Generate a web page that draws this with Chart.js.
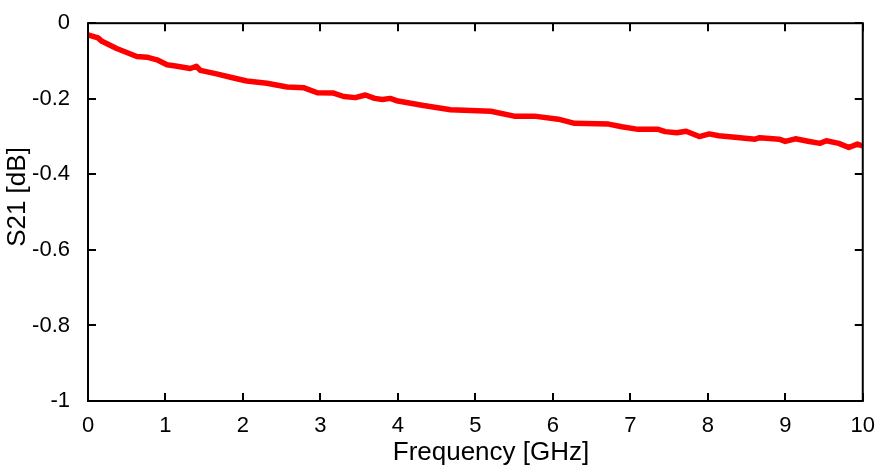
<!DOCTYPE html>
<html>
<head>
<meta charset="utf-8">
<script src="https://cdn.jsdelivr.net/npm/chart.js@4.4.1/dist/chart.umd.min.js"></script>
<style>
  html, body { margin: 0; padding: 0; background: #fff; }
  #wrap { width: 879px; height: 469px; }
</style>
</head>
<body>
<div id="wrap"><canvas id="chart"></canvas></div>
<script>
const freqGHz = [0, 0.13, 0.18, 0.37, 0.63, 0.76, 0.89, 1.02, 1.15, 1.32, 1.4, 1.45, 1.66, 1.88,
  2.05, 2.31, 2.57, 2.79, 2.96, 3.17, 3.3, 3.45, 3.58, 3.7, 3.8, 3.9, 4.0, 4.33, 4.68, 5.2,
  5.5, 5.76, 6.07, 6.28, 6.72, 6.89, 7.1, 7.36, 7.45, 7.6, 7.72, 7.89, 8.02, 8.14, 8.35,
  8.61, 8.67, 8.92, 9.0, 9.13, 9.31, 9.45, 9.53, 9.69, 9.82, 9.93, 10];
const s21dB = [-0.031, -0.039, -0.048, -0.067, -0.088, -0.09, -0.097, -0.11, -0.114, -0.12, -0.114, -0.125, -0.134, -0.145,
  -0.153, -0.159, -0.169, -0.171, -0.184, -0.185, -0.194, -0.197, -0.19, -0.199, -0.202, -0.199, -0.206, -0.218, -0.229, -0.233,
  -0.246, -0.246, -0.254, -0.265, -0.267, -0.274, -0.281, -0.281, -0.287, -0.29, -0.286, -0.3, -0.293, -0.298, -0.302,
  -0.307, -0.303, -0.307, -0.313, -0.306, -0.313, -0.318, -0.311, -0.318, -0.329, -0.32, -0.325];
const xTitle = "Frequency [GHz]";
const yTitle = "S21 [dB]";

const points = freqGHz.map((f, i) => ({ x: f, y: s21dB[i] }));
const fontFamily = "'Liberation Sans', Arial, sans-serif";

// gnuplot style frame: box + inward ticks on all four sides, axis titles
const framePlugin = {
  id: "frame",
  afterDraw(chart) {
    const ctx = chart.ctx;
    const a = chart.chartArea;
    const xs = chart.scales.x, ys = chart.scales.y;
    const len = 8;
    ctx.save();
    ctx.strokeStyle = "#000";
    ctx.lineWidth = 2;
    ctx.strokeRect(a.left, a.top, a.right - a.left, a.bottom - a.top);
    ctx.beginPath();
    xs.ticks.forEach((t) => {
      const px = Math.round(xs.getPixelForValue(t.value));
      ctx.moveTo(px, a.bottom); ctx.lineTo(px, a.bottom - len);
      ctx.moveTo(px, a.top); ctx.lineTo(px, a.top + len);
    });
    ys.ticks.forEach((t) => {
      const py = Math.round(ys.getPixelForValue(t.value));
      ctx.moveTo(a.left, py); ctx.lineTo(a.left + len, py);
      ctx.moveTo(a.right, py); ctx.lineTo(a.right - len, py);
    });
    ctx.stroke();

    ctx.fillStyle = "#000";
    ctx.font = "26px " + fontFamily;
    ctx.textAlign = "center";
    ctx.textBaseline = "alphabetic";
    ctx.fillText(xTitle, 491, 460);
    ctx.translate(25, 197);
    ctx.rotate(-Math.PI / 2);
    ctx.fillText(yTitle, 0, 0);
    ctx.restore();
  }
};

new Chart(document.getElementById("chart"), {
  type: "scatter",
  data: {
    datasets: [{
      data: points,
      showLine: true,
      borderColor: "#ff0000",
      backgroundColor: "#ff0000",
      borderWidth: 5.5,
      pointRadius: 0,
      tension: 0,
      borderJoinStyle: "round"
    }]
  },
  options: {
    responsive: true,
    maintainAspectRatio: false,
    animation: false,
    layout: { padding: { top: 16, right: 5, left: 0, bottom: 0 } },
    plugins: { legend: { display: false }, tooltip: { enabled: false } },
    scales: {
      x: {
        type: "linear",
        min: 0, max: 10,
        ticks: { stepSize: 1, padding: 4, color: "#000", font: { family: fontFamily, size: 22 } },
        grid: { display: false },
        border: { display: false },
        afterFit: (s) => { s.height = 68; }
      },
      y: {
        min: -1, max: 0,
        ticks: { stepSize: 0.2, padding: 10, color: "#000", font: { family: fontFamily, size: 22 },
          callback: (v) => (Math.abs(v) < 1e-9 ? "0" : String(Math.round(v * 10) / 10)) },
        grid: { display: false },
        border: { display: false },
        afterFit: (s) => { s.width = 88; }
      }
    }
  },
  plugins: [framePlugin]
});
</script>
</body>
</html>
